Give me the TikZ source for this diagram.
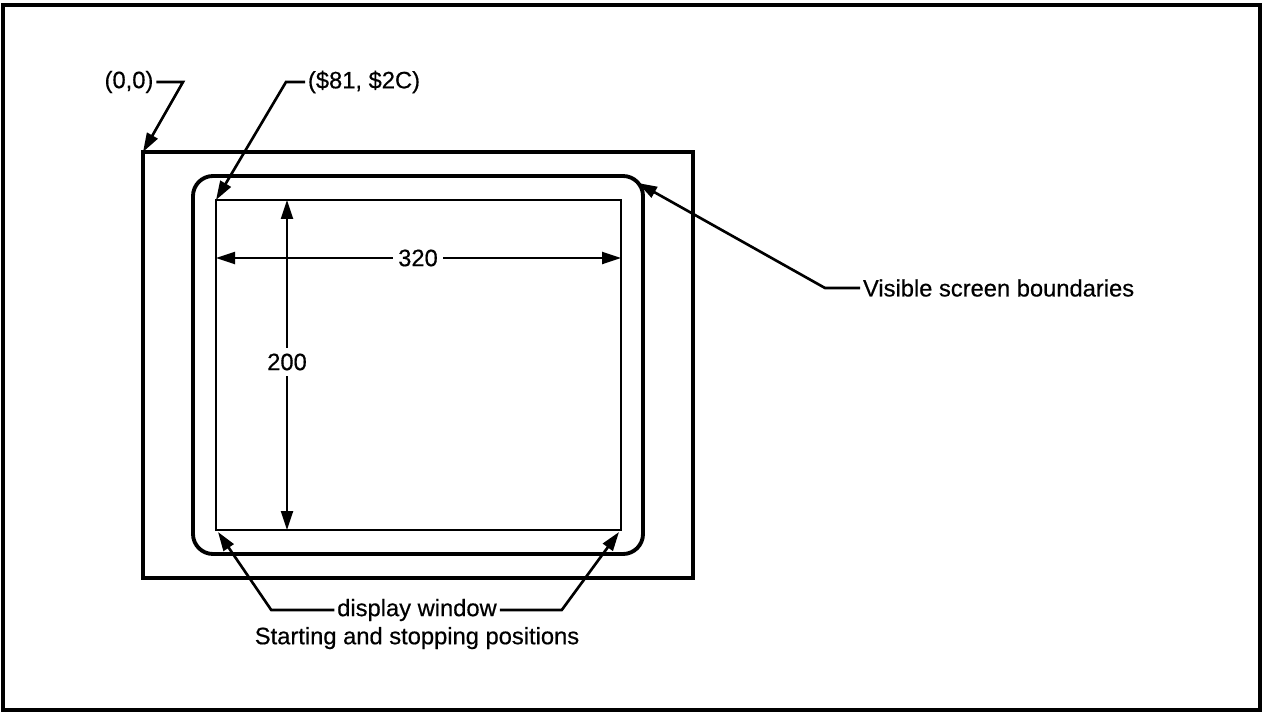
\documentclass[tikz,border=0pt]{standalone}
\usepackage{fontspec}
\setmainfont{Liberation Sans}[FakeBold=0.5]
\usetikzlibrary{arrows.meta,positioning}
\begin{document}
\begin{tikzpicture}[x=0.02cm,y=-0.02cm,
    txt/.style={font=\fontsize{13.5}{15}\selectfont,inner sep=1.5pt},
    dimtxt/.style={font=\fontsize{13.5}{15}\selectfont,inner sep=3pt},
    lead/.style={line width=1.5pt,-{Triangle[length=3.8mm,width=2.4mm]}},
    dimline/.style={line width=1.3pt,-{Triangle[length=3.8mm,width=2.4mm]}}]
    \useasboundingbox (0,0) rectangle (1263,713);
    \draw[line width=2pt] (3,5) rectangle (1260,710);
    % raster, visible screen and display window
    \draw[line width=2.4pt] (143,152) rectangle (693,578);
    \draw[line width=2.2pt,rounded corners=0.4cm] (193,176) rectangle (643,554);
    \draw[line width=1.1pt] (216,200) rectangle (621,530);
    \coordinate (orig) at (143,152);
    \coordinate (scrcorner) at (638,183);
    \coordinate (winNW) at (216,200);
    \coordinate (winSW) at (218,532);
    \coordinate (winSE) at (619,532);
    \coordinate (winW) at (216,258);
    \coordinate (winE) at (621,258);
    \coordinate (winN) at (287,200);
    \coordinate (winS) at (287,530);
    % labels
    \node[txt] (origlbl) at (129,82) {(0,0)};
    \node[txt,anchor=west] (startlbl) at (305,82) {(\$81, \$2C)};
    \node[dimtxt] (wide) at (418,258) {320};
    \node[dimtxt] (high) at (287,362) {200};
    \node[txt,anchor=west] (vislbl) at (860,288) {Visible screen boundaries};
    \node[txt] (winlbl) at (417,610) {display window};
    \node[txt,below=0pt of winlbl] (poslbl) {Starting and stopping positions};
    % leaders
    \draw[lead] (origlbl.east) -- (183,82) -- (orig);
    \draw[lead] (startlbl.west) -- ++(-19,0) -- (winNW);
    \draw[lead] (vislbl.west) -- ++(-35,0) -- (scrcorner);
    \draw[lead] (winlbl.west) -- ++(-63,0) -- (winSW);
    \draw[lead] (winlbl.east) -- ++(62,0) -- (winSE);
    % dimensions
    \draw[dimline] (wide.west) -- (winW);
    \draw[dimline] (wide.east) -- (winE);
    \draw[dimline] (high.north) -- (winN);
    \draw[dimline] (high.south) -- (winS);
\end{tikzpicture}
\end{document}
